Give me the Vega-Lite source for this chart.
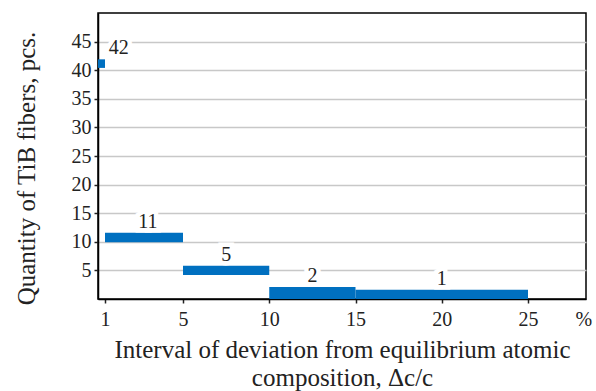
{
  "$schema": "https://vega.github.io/schema/vega-lite/v6.json",
  "width": 488,
  "height": 286,
  "autosize": {"type": "none"},
  "padding": {"left": 98, "top": 13, "right": 10, "bottom": 92},
  "background": "white",
  "config": {
    "font": "Liberation Serif",
    "view": {"stroke": "black", "strokeWidth": 1.5},
    "axis": {
      "labelFont": "Liberation Serif",
      "titleFont": "Liberation Serif",
      "labelColor": "#222",
      "titleColor": "#222",
      "titleFontWeight": "normal",
      "labelOverlap": false,
      "domainColor": "black",
      "domainWidth": 1.5,
      "tickColor": "#222",
      "tickWidth": 1.5,
      "tickSize": 4,
      "gridColor": "#c8c8c8",
      "gridWidth": 1.5
    }
  },
  "data": {
    "values": [
      {"from": 0, "to": 1, "low": 40.4, "high": 41.9, "count": "42", "labelAt": 1.7},
      {"from": 1, "to": 5, "low": 9.9, "high": 11.6, "count": "11", "labelAt": 3.2},
      {"from": 5, "to": 10, "low": 4.2, "high": 5.8, "count": "5", "labelAt": 7.5},
      {"from": 10, "to": 15, "low": 0, "high": 2.1, "count": "2", "labelAt": 12.5},
      {"from": 15, "to": 25, "low": 0, "high": 1.6, "count": "1", "labelAt": 20}
    ]
  },
  "layer": [
    {
      "mark": {"type": "bar", "color": "#0070C0"},
      "encoding": {
        "x": {
          "field": "from",
          "type": "quantitative",
          "scale": {"domain": [0, 1, 5, 25, 28.35], "range": [0, 7, 85, 430, 488], "nice": false, "zero": false},
          "axis": {
            "values": [1, 5, 10, 15, 20, 25, 28.2],
            "tickCount": 20,
            "labelExpr": "datum.value > 26 ? '%' : datum.label",
            "labelFontSize": 20,
            "labelPadding": 6,
            "labelFlush": false,
            "grid": false,
            "tickColor": {"condition": {"test": "datum.value > 26", "value": "transparent"}, "value": "#222"},
            "title": ["Interval of deviation from equilibrium atomic", "composition, Δc/c"],
            "titleFontSize": 25,
            "titleLineHeight": 28,
            "titleBaseline": "top",
            "titleAnchor": "middle",
            "titleX": 244,
            "titleY": 38
          }
        },
        "x2": {"field": "to"},
        "y": {
          "field": "low",
          "type": "quantitative",
          "scale": {"domain": [0, 50], "nice": false},
          "axis": {
            "values": [5, 10, 15, 20, 25, 30, 35, 40, 45],
            "tickCount": 20,
            "labelFontSize": 20,
            "labelPadding": 3,
            "grid": true,
            "title": "Quantity of TiB fibers, pcs.",
            "titleFontSize": 25,
            "titleAngle": -90,
            "titleAlign": "center",
            "titleBaseline": "middle",
            "titleX": -72,
            "titleY": 155
          }
        },
        "y2": {"field": "high"}
      }
    },
    {
      "mark": {"type": "text", "fontSize": 20, "dy": -11, "baseline": "middle", "stroke": "white", "strokeWidth": 9, "fill": "white", "font": "Liberation Serif"},
      "encoding": {
        "x": {"field": "labelAt", "type": "quantitative"},
        "y": {"field": "high", "type": "quantitative"},
        "text": {"field": "count"}
      }
    },
    {
      "mark": {"type": "text", "fontSize": 20, "dy": -11, "baseline": "middle", "color": "#222", "font": "Liberation Serif"},
      "encoding": {
        "x": {"field": "labelAt", "type": "quantitative"},
        "y": {"field": "high", "type": "quantitative"},
        "text": {"field": "count"}
      }
    }
  ]
}
